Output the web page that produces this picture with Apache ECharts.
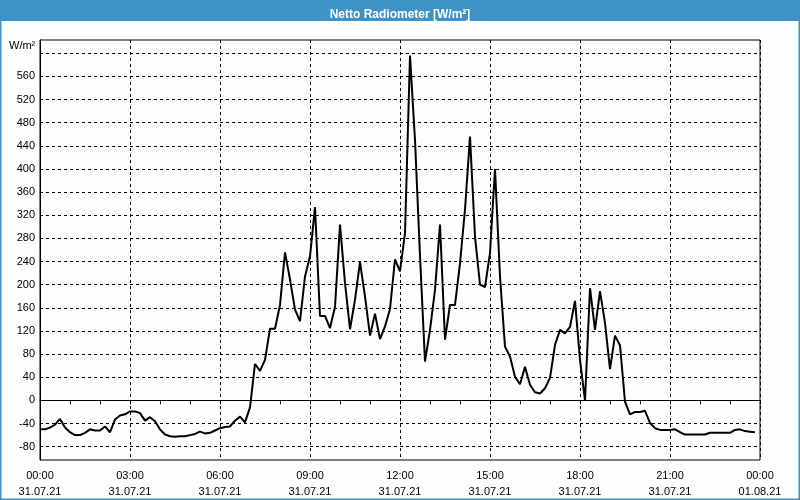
<!DOCTYPE html>
<html>
<head>
<meta charset="utf-8">
<script src="https://cdn.jsdelivr.net/npm/echarts@6/dist/echarts.min.js"></script>
<style>
html,body{margin:0;padding:0;background:#fff;}
#chart{width:800px;height:500px;}
</style>
</head>
<body>
<div id="chart"></div>
<script>
// Time step between samples (hours) : 10 minutes
var STEP_H = 1 / 6;
// Net radiation values [W/m²], 10-minute samples from 31.07.21 00:00
var radiation = [
  -50, -50, -47, -42, -32, -47, -55, -60, -60, -56,
  -50, -52, -52, -45, -55, -33, -26, -24, -19, -19,
  -22, -35, -29, -36, -50, -59, -62, -63, -62, -62,
  -60, -58, -54, -57, -56, -52, -48, -46, -45, -35,
  -28, -38, -12, 63, 51, 70, 124, 124, 165, 256,
  209, 157, 137, 214, 249, 334, 146, 146, 125, 162,
  304, 203, 123, 174, 239, 180, 112, 150, 106, 128,
  158, 244, 223, 289, 596, 450, 250, 67, 122, 191,
  304, 105, 165, 165, 237, 330, 456, 283, 200, 196,
  255, 400, 214, 93, 76, 41, 28, 58, 27, 14,
  12, 21, 39, 96, 122, 116, 127, 172, 70, 0,
  194, 122, 189, 134, 54, 112, 95, -2, -24, -20,
  -20, -18, -39, -48, -51, -51, -51, -50, -55, -59,
  -59, -59, -59, -59, -56, -56, -56, -56, -56, -51,
  -50, -53, -54, -55
];
// X tick labels (every 3 hours)
var xTickLabels = [
  "00:00\n31.07.21", "03:00\n31.07.21", "06:00\n31.07.21", "09:00\n31.07.21",
  "12:00\n31.07.21", "15:00\n31.07.21", "18:00\n31.07.21", "21:00\n31.07.21",
  "00:00\n01.08.21"
];
// Y grid / tick values
var yGridValues = [-80, -40, 0, 40, 80, 120, 160, 200, 240, 280, 320, 360, 400, 440, 480, 520, 560, 600];
var yLabelValues = [-80, -40, 0, 40, 80, 120, 160, 200, 240, 280, 320, 360, 400, 440, 480, 520, 560];

var seriesData = radiation.map(function (v, i) { return [i * STEP_H, v]; });

var FONT = 'Liberation Sans';
var chart = echarts.init(document.getElementById('chart'), null, {renderer: 'canvas'});
chart.setOption({
  animation: false,
  backgroundColor: '#fcfefd',
  title: {
    text: 'Netto Radiometer [W/m²]',
    left: 'center',
    top: 4,
    textStyle: {color: '#ffffff', fontFamily: FONT, fontWeight: 'bold', fontSize: 12}
  },
  graphic: [
    {type: 'rect', z: -10, shape: {x: 0, y: 0, width: 800, height: 21}, style: {fill: '#3d93c5'}},
    {type: 'rect', z: -10, shape: {x: 0.5, y: 0.5, width: 799, height: 499}, style: {fill: null, stroke: '#3d93c5', lineWidth: 2}},
    {type: 'text', left: 9, top: 40, style: {text: 'W/m²', fontFamily: FONT, fontSize: 11, fill: '#000'}}
  ],
  grid: {
    left: 40, right: 40, top: 40, bottom: 39,
    show: true, borderColor: '#000', borderWidth: 1, backgroundColor: 'transparent'
  },
  xAxis: {
    type: 'value',
    min: 0, max: 24, interval: 3,
    axisLine: {show: true, lineStyle: {color: '#000', width: 1}},
    axisTick: {show: true, length: 4, lineStyle: {color: '#000'}},
    minorTick: {show: true, splitNumber: 3, length: 4, lineStyle: {color: '#000'}},
    splitLine: {show: true, lineStyle: {color: '#000', type: [3, 3], width: 1}},
    axisLabel: {
      margin: 8,
      fontFamily: FONT, fontSize: 11, color: '#000', lineHeight: 16,
      formatter: function (v) { return xTickLabels[Math.round(v / 3)]; }
    }
  },
  yAxis: {
    type: 'value',
    min: -103, max: 623,
    axisLine: {show: true, lineStyle: {color: '#000', width: 1}},
    axisTick: {show: false, customValues: yGridValues},
    splitLine: {show: true, lineStyle: {color: '#000', type: [3, 3], width: 1}},
    axisLabel: {
      customValues: yLabelValues,
      margin: 5,
      fontFamily: FONT, fontSize: 11, color: '#000'
    }
  },
  series: [{
    type: 'line',
    data: seriesData,
    showSymbol: false,
    symbol: 'none',
    lineStyle: {color: '#000', width: 2},
    z: 5
  }]
});
</script>
</body>
</html>
